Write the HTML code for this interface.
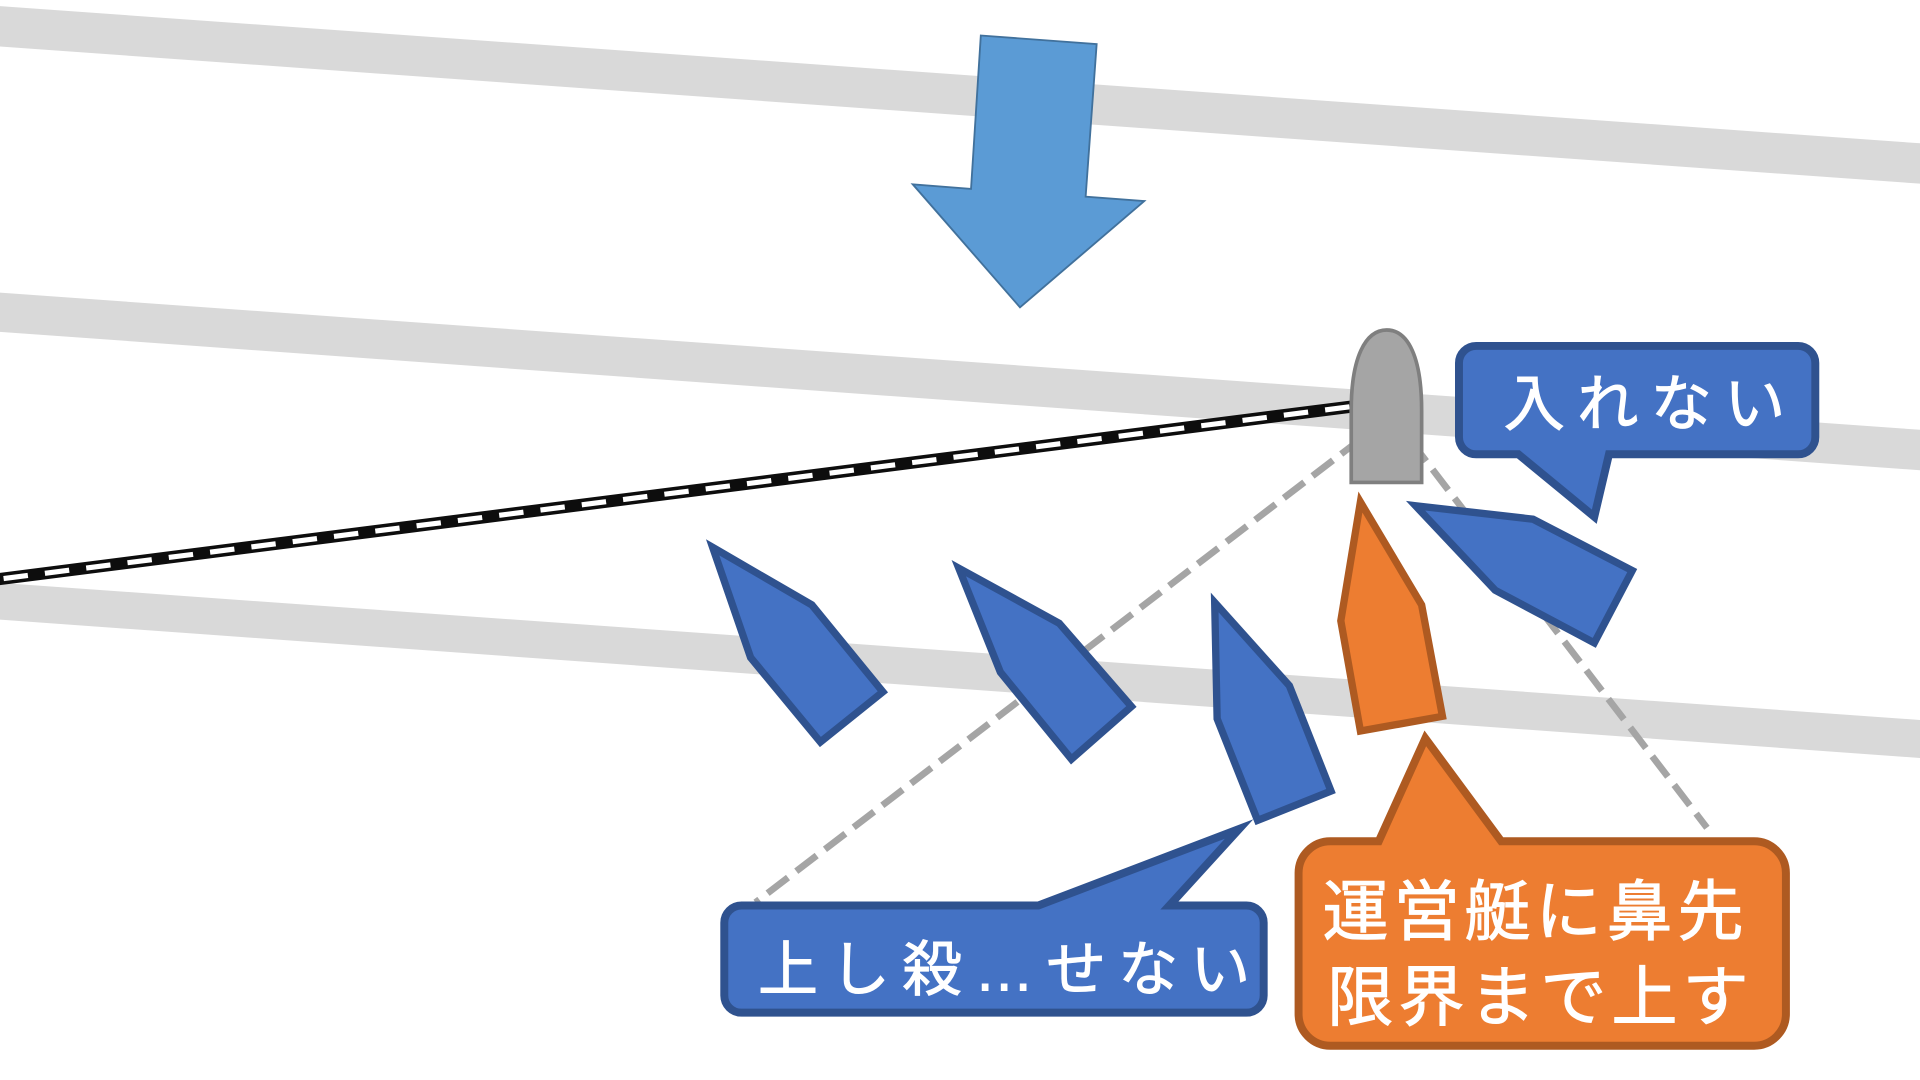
<!DOCTYPE html>
<html>
<head>
<meta charset="utf-8">
<style>
html,body{margin:0;padding:0;background:#fff;width:1920px;height:1080px;overflow:hidden;}
svg{display:block;}
text{font-family:"Liberation Sans","Noto Sans CJK JP",sans-serif;fill:#fff;stroke:#fff;stroke-width:0.8;}
</style>
</head>
<body>
<svg width="1920" height="1080" viewBox="0 0 1568 882" preserveAspectRatio="none" xmlns="http://www.w3.org/2000/svg">
  <!-- gray bands -->
  <polygon points="0,5 1568,117 1568,150 0,38" fill="#d9d9d9"/>
  <polygon points="0,239 1568,351 1568,384 0,271" fill="#d9d9d9"/>
  <polygon points="0,476 1568,588 1568,619 0,506" fill="#d9d9d9"/>

  <!-- big arrow -->
  <polygon points="801,29 895.6,36 886.6,160.6 934.5,164.2 833,251 745.4,150.5 793,154.3" fill="#5b9bd5" stroke="#41719c" stroke-width="1.5" stroke-linejoin="miter"/>

  <!-- black dashed line -->
  <line x1="-5" y1="473.5" x2="1104" y2="332" stroke="#0d0d0d" stroke-width="10"/>
  <line x1="-5" y1="473.5" x2="1104" y2="332" stroke="#ffffff" stroke-width="4.2" stroke-dasharray="20 14" stroke-dashoffset="-8"/>

  <!-- gray dashed lines -->
  <line x1="1112" y1="358" x2="617" y2="737" stroke="#a5a5a5" stroke-width="5.5" stroke-dasharray="21 8.5"/>
  <line x1="1152" y1="360" x2="1394" y2="676" stroke="#a5a5a5" stroke-width="5.5" stroke-dasharray="21 8.5"/>

  <!-- bollard -->
  <path d="M1103.5,394 L1103.5,335 C1103.5,292 1115,269.5 1132.5,269.5 C1150,269.5 1161,292 1161,335 L1161,394 Z" fill="#a5a5a5" stroke="#7f7f7f" stroke-width="3"/>

  <!-- blue boats -->
  <g fill="#4472c4" stroke="#2f528f" stroke-width="6" stroke-linejoin="miter" stroke-miterlimit="10">
    <polygon points="582,447 663,494 721,565 670,606 613,537"/>
    <polygon points="783,464 865,509 924,577 875,620 817,549"/>
    <polygon points="992,492 1053,560 1087,646 1027,670 994,587"/>
    <polygon points="1156,413 1252,424 1333,466 1302,525 1221,482"/>
  </g>
  <!-- orange boat -->
  <polygon points="1111,410 1161,494 1178,585 1111,597 1095,507" fill="#ed7d31" stroke="#ae5a21" stroke-width="6" stroke-linejoin="miter" stroke-miterlimit="10"/>

  <!-- callout: 入れない -->
  <path d="M1205.5,282.5 H1468.5 A14,14 0 0 1 1482.5,296.5 V357 A14,14 0 0 1 1468.5,371 H1314 L1302,422 L1240,371 H1205.5 A14,14 0 0 1 1191.5,357 V296.5 A14,14 0 0 1 1205.5,282.5 Z" fill="#4472c4" stroke="#2f528f" stroke-width="6.5" stroke-linejoin="miter" stroke-miterlimit="10"/>
  <text x="1228" y="347" font-size="50" textLength="230" lengthAdjust="spacing">入れない</text>

  <!-- callout: 上し殺…せない -->
  <path d="M605.5,739.5 H848 L1012,677 L955,739.5 H1018 A14,14 0 0 1 1032,753.5 V813 A14,14 0 0 1 1018,827 H605.5 A14,14 0 0 1 591.5,813 V753.5 A14,14 0 0 1 605.5,739.5 Z" fill="#4472c4" stroke="#2f528f" stroke-width="6.5" stroke-linejoin="miter" stroke-miterlimit="10"/>
  <text x="619" y="809" font-size="49" textLength="402" lengthAdjust="spacing">上し殺…せない</text>

  <!-- callout: orange -->
  <path d="M1086.5,687 H1126 L1164,603 L1226,687 H1432.5 A26,26 0 0 1 1458.5,713 V828 A26,26 0 0 1 1432.5,854 H1086.5 A26,26 0 0 1 1060.5,828 V713 A26,26 0 0 1 1086.5,687 Z" fill="#ed7d31" stroke="#ae5a21" stroke-width="6.5" stroke-linejoin="miter" stroke-miterlimit="10"/>
  <text x="1080" y="763" font-size="54" textLength="344" lengthAdjust="spacing">運営艇に鼻先</text>
  <text x="1084" y="833" font-size="54" textLength="344" lengthAdjust="spacing">限界まで上す</text>
</svg>
</body>
</html>
